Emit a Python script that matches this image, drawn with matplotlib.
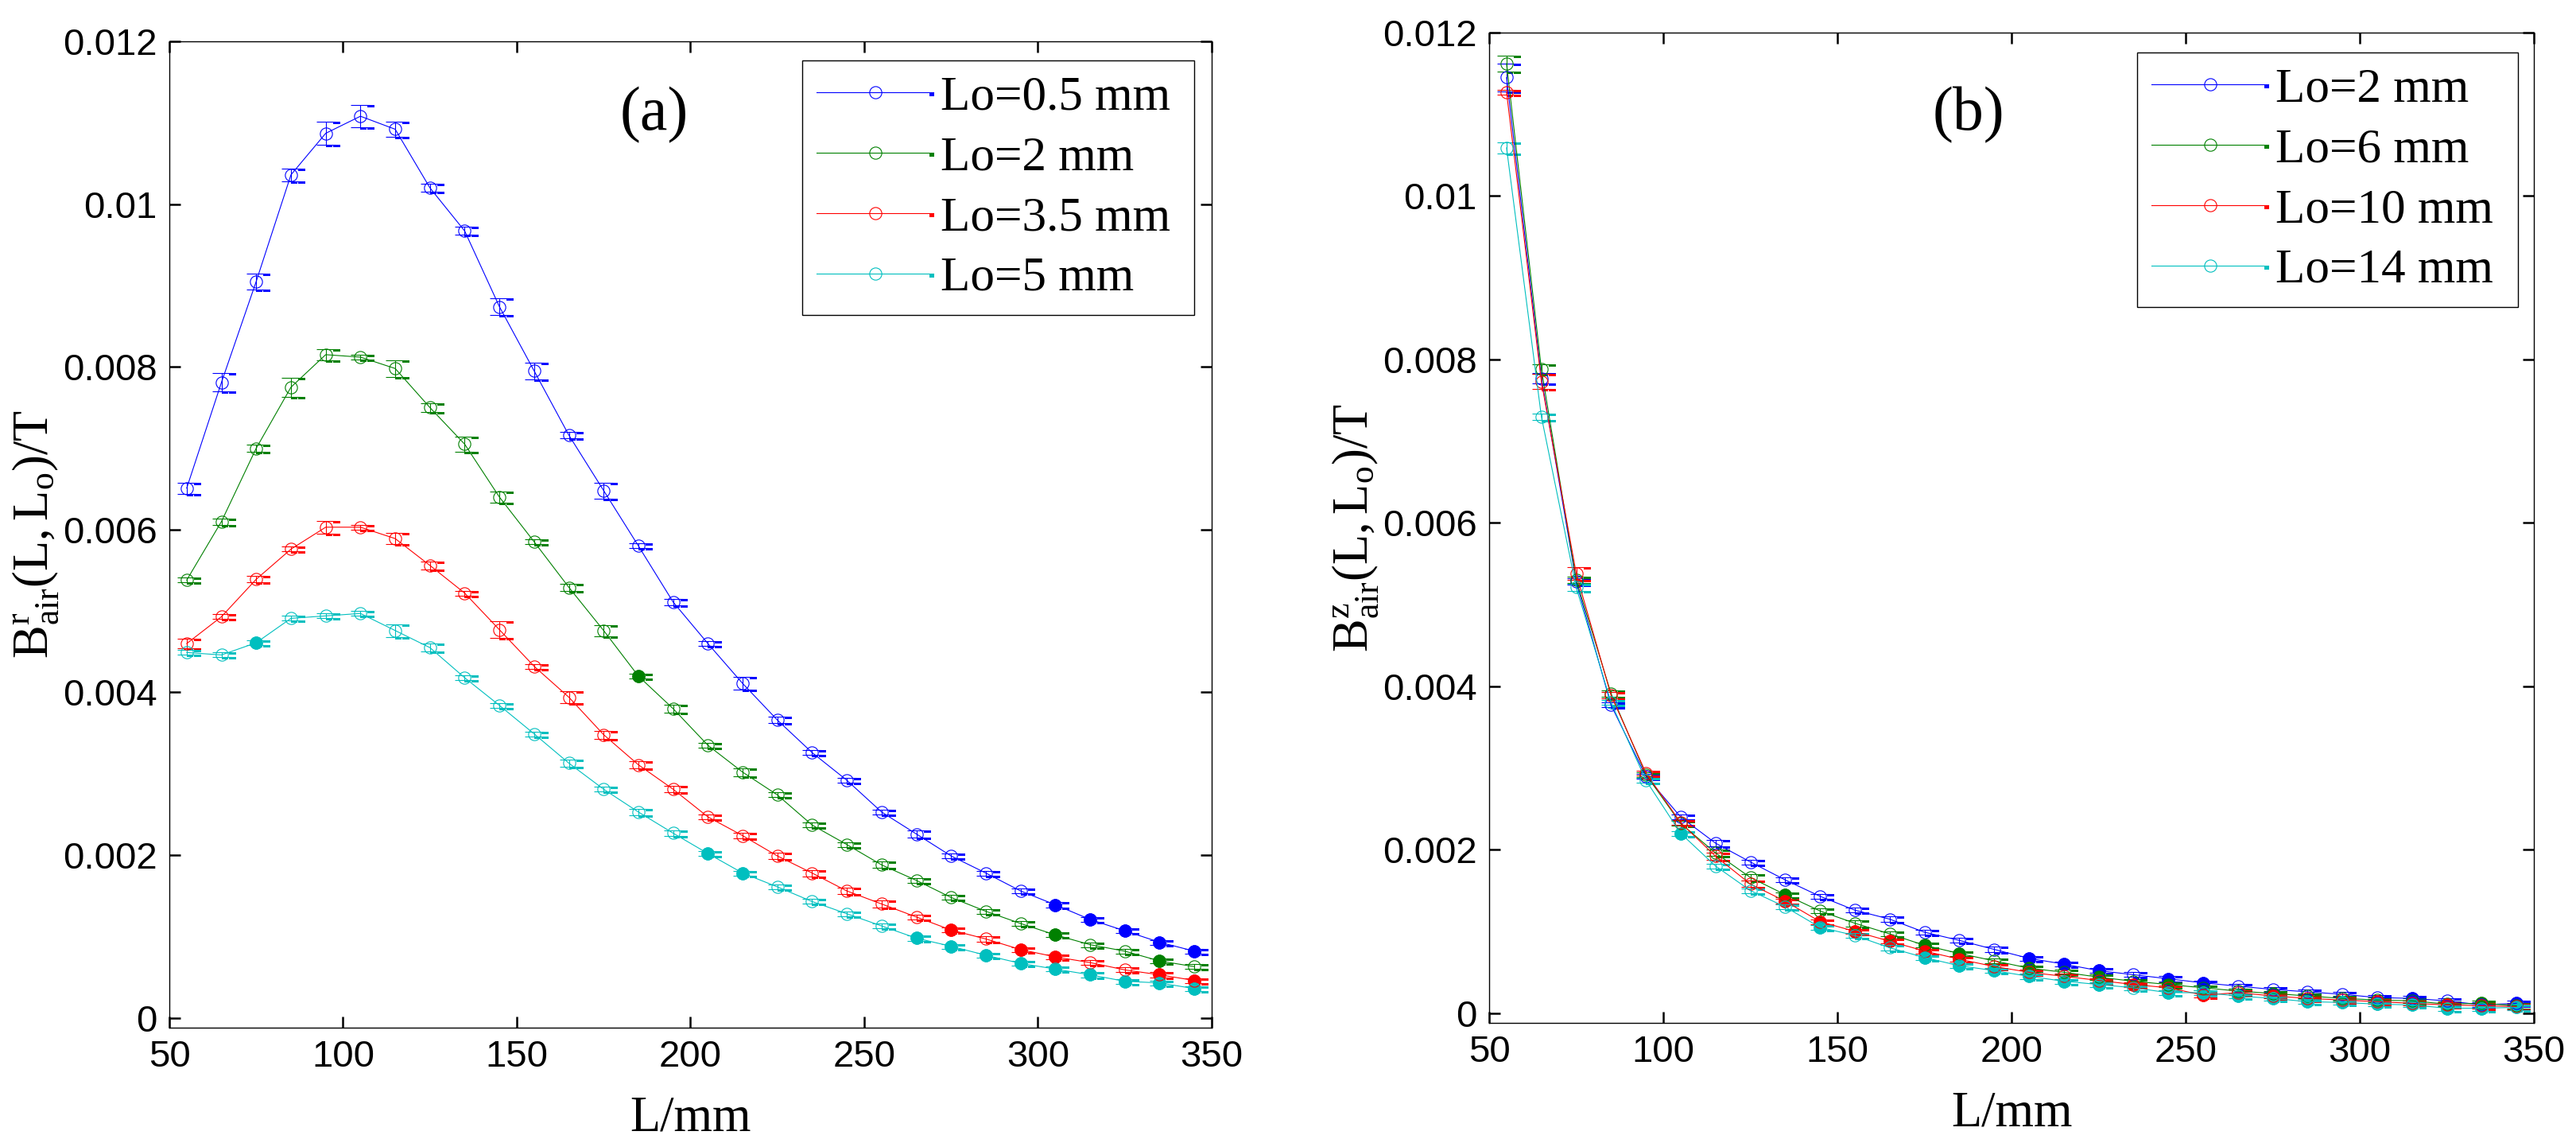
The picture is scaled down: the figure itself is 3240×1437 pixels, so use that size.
import numpy as np
import matplotlib
matplotlib.use('Agg')
import matplotlib.pyplot as plt
from matplotlib.lines import Line2D
from matplotlib.path import Path
from matplotlib.legend_handler import HandlerTuple

plt.rcParams['font.family'] = 'Liberation Sans'
plt.rcParams['mathtext.fontset'] = 'custom'
plt.rcParams['mathtext.rm'] = 'Liberation Serif'
plt.rcParams['mathtext.it'] = 'Liberation Serif:italic'

# %% data
L_mm = [55, 65, 75, 85, 95, 105, 115, 125, 135, 145, 155, 165, 175, 185, 195,
        205, 215, 225, 235, 245, 255, 265, 275, 285, 295, 305, 315, 325, 335, 345]

# (a) radial component, Lo = 0.5, 2, 3.5, 5 mm
br_05 = [0.00651, 0.00781, 0.00905, 0.01036, 0.01087, 0.01108, 0.01092, 0.01020, 0.00967, 0.00874,
         0.00795, 0.00716, 0.00648, 0.00580, 0.00511, 0.00460, 0.00411, 0.00366, 0.00326, 0.00292,
         0.00253, 0.00226, 0.00199, 0.00178, 0.00156, 0.00139, 0.00121, 0.00107, 0.00093, 0.00082]
br_2 = [0.00538, 0.00610, 0.00700, 0.00775, 0.00815, 0.00812, 0.00798, 0.00750, 0.00705, 0.00640,
        0.00585, 0.00529, 0.00476, 0.00420, 0.00380, 0.00335, 0.00302, 0.00274, 0.00237, 0.00213,
        0.00188, 0.00169, 0.00148, 0.00131, 0.00116, 0.00102, 0.00090, 0.00082, 0.00070, 0.00063]
br_35 = [0.00460, 0.00493, 0.00539, 0.00576, 0.00603, 0.00603, 0.00589, 0.00556, 0.00522, 0.00477,
         0.00432, 0.00394, 0.00348, 0.00311, 0.00281, 0.00247, 0.00224, 0.00199, 0.00178, 0.00156,
         0.00140, 0.00124, 0.00108, 0.00097, 0.00084, 0.00075, 0.00068, 0.00059, 0.00053, 0.00046]
br_5 = [0.00449, 0.00446, 0.00461, 0.00491, 0.00494, 0.00497, 0.00476, 0.00455, 0.00418, 0.00384,
        0.00349, 0.00313, 0.00281, 0.00253, 0.00227, 0.00202, 0.00178, 0.00161, 0.00143, 0.00128,
        0.00113, 0.00098, 0.00088, 0.00077, 0.00067, 0.00060, 0.00053, 0.00045, 0.00043, 0.00036]
er_05 = [0.00007, 0.00011, 0.00010, 0.00008, 0.00014, 0.00014, 0.00009, 0.00005, 0.00005, 0.00010,
         0.00010, 0.00004, 0.00010, 0.00003, 0.00004, 0.00003, 0.00008, 0.00004, 0.00003, 0.00003,
         0.00003, 0.00004, 0.00003, 0.00003, 0.00003, 0.00003, 0.00003, 0.00003, 0.00003, 0.00003]
er_2 = [0.00003, 0.00004, 0.00004, 0.00012, 0.00007, 0.00003, 0.00010, 0.00005, 0.00009, 0.00007,
        0.00003, 0.00004, 0.00007, 0.00003, 0.00005, 0.00003, 0.00005, 0.00003, 0.00003, 0.00003,
        0.00004, 0.00003, 0.00003, 0.00003, 0.00003, 0.00003, 0.00003, 0.00003, 0.00003, 0.00003]
er_35 = [0.00006, 0.00003, 0.00004, 0.00003, 0.00008, 0.00003, 0.00007, 0.00005, 0.00003, 0.00010,
         0.00003, 0.00007, 0.00005, 0.00004, 0.00004, 0.00003, 0.00003, 0.00004, 0.00004, 0.00004,
         0.00004, 0.00003, 0.00003, 0.00003, 0.00003, 0.00003, 0.00003, 0.00003, 0.00003, 0.00003]
er_5 = [0.00003, 0.00003, 0.00003, 0.00003, 0.00003, 0.00003, 0.00008, 0.00005, 0.00003, 0.00003,
        0.00003, 0.00004, 0.00003, 0.00004, 0.00003, 0.00003, 0.00003, 0.00003, 0.00003, 0.00003,
        0.00003, 0.00003, 0.00003, 0.00003, 0.00003, 0.00003, 0.00003, 0.00003, 0.00003, 0.00003]
fill_05 = [305, 315, 325, 335, 345]
fill_2 = [185, 305, 335]
fill_35 = [275, 295, 305, 335, 345]
fill_5 = [75, 205, 215, 265, 275, 285, 295, 305, 315, 325, 335, 345]

# (b) axial component, Lo = 2, 6, 10, 14 mm
bz_2 = [0.01145, 0.00777, 0.00528, 0.00377, 0.00290, 0.00240, 0.00208, 0.00185, 0.00163, 0.00143,
        0.00126, 0.00115, 0.00099, 0.00089, 0.00078, 0.00067, 0.00060, 0.00052, 0.00047, 0.00042,
        0.00037, 0.00033, 0.00029, 0.00026, 0.00023, 0.00019, 0.00018, 0.00015, 0.00010, 0.00012]
bz_6 = [0.01162, 0.00788, 0.00530, 0.00391, 0.00292, 0.00232, 0.00196, 0.00166, 0.00145, 0.00125,
        0.00110, 0.00097, 0.00083, 0.00073, 0.00064, 0.00055, 0.00050, 0.00044, 0.00039, 0.00035,
        0.00031, 0.00027, 0.00024, 0.00021, 0.00018, 0.00016, 0.00015, 0.00011, 0.00012, 0.00009]
bz_10 = [0.01127, 0.00773, 0.00538, 0.00389, 0.00294, 0.00233, 0.00192, 0.00158, 0.00137, 0.00112,
         0.00100, 0.00088, 0.00076, 0.00066, 0.00057, 0.00050, 0.00045, 0.00040, 0.00035, 0.00031,
         0.00022, 0.00025, 0.00021, 0.00018, 0.00016, 0.00014, 0.00012, 0.00010, 0.00009, 0.00008]
bz_14 = [0.01059, 0.00730, 0.00521, 0.00380, 0.00285, 0.00220, 0.00180, 0.00150, 0.00130, 0.00105,
         0.00095, 0.00080, 0.00068, 0.00058, 0.00052, 0.00045, 0.00039, 0.00035, 0.00031, 0.00025,
         0.00025, 0.00021, 0.00018, 0.00014, 0.00013, 0.00011, 0.00010, 0.00006, 0.00006, 0.00007]
ez_2 = [0.00017, 0.00006, 0.00004, 0.00003, 0.00003, 0.00003, 0.00004, 0.00003, 0.00003, 0.00003,
        0.00003, 0.00003, 0.00003, 0.00003, 0.00003, 0.00003, 0.00003, 0.00003, 0.00003, 0.00003,
        0.00003, 0.00003, 0.00003, 0.00003, 0.00003, 0.00003, 0.00003, 0.00003, 0.00003, 0.00003]
ez_6 = [0.00010, 0.00006, 0.00004, 0.00004, 0.00003, 0.00003, 0.00004, 0.00004, 0.00003, 0.00003,
        0.00004, 0.00003, 0.00003, 0.00003, 0.00003, 0.00003, 0.00003, 0.00003, 0.00003, 0.00003,
        0.00003, 0.00003, 0.00003, 0.00003, 0.00003, 0.00003, 0.00003, 0.00003, 0.00003, 0.00003]
ez_10 = [0.00003, 0.00009, 0.00008, 0.00004, 0.00003, 0.00003, 0.00004, 0.00004, 0.00003, 0.00003,
         0.00003, 0.00003, 0.00003, 0.00003, 0.00003, 0.00003, 0.00003, 0.00003, 0.00003, 0.00003,
         0.00003, 0.00003, 0.00003, 0.00003, 0.00003, 0.00003, 0.00003, 0.00003, 0.00003, 0.00003]
ez_14 = [0.00007, 0.00004, 0.00004, 0.00003, 0.00003, 0.00003, 0.00003, 0.00003, 0.00003, 0.00003,
         0.00003, 0.00003, 0.00003, 0.00003, 0.00003, 0.00003, 0.00003, 0.00003, 0.00003, 0.00003,
         0.00003, 0.00003, 0.00003, 0.00003, 0.00003, 0.00003, 0.00003, 0.00003, 0.00003, 0.00003]
fillz_2 = [205, 215, 225, 245, 255, 315, 345]
fillz_6 = [135, 175, 185, 205, 225, 245, 275, 335]
fillz_10 = [135, 145, 155, 165, 175, 185, 235, 255, 275, 305, 325]
fillz_14 = [105, 145, 175, 185, 195, 205, 215, 225, 245, 255, 265, 275, 285, 295, 305, 315, 325, 335, 345]

labels_a = ['Lo=0.5 mm', 'Lo=2 mm', 'Lo=3.5 mm', 'Lo=5 mm']
labels_b = ['Lo=2 mm', 'Lo=6 mm', 'Lo=10 mm', 'Lo=14 mm']
colors = ['#0000ff', '#008000', '#ff0000', '#00bfbf']
x_ticks = [50, 100, 150, 200, 250, 300, 350]
y_ticks = [0, 0.002, 0.004, 0.006, 0.008, 0.01, 0.012]
y_ticklabels = ['0', '0.002', '0.004', '0.006', '0.008', '0.01', '0.012']

# %% little blocks MATLAB leaves beside the error bar caps
MV, LT, CL = Path.MOVETO, Path.LINETO, Path.CLOSEPOLY
top_blk = Path([(0.5, -0.17), (1, -0.17), (1, 0), (0.5, 0), (0.5, -0.17)], [MV, LT, LT, LT, CL])
bot_blk = Path([(0.02, -0.17), (0.45, -0.17), (0.45, 0), (0.02, 0), (0.02, -0.17),
                (0.5, -0.17), (1, -0.17), (1, 0), (0.5, 0), (0.5, -0.17)],
               [MV, LT, LT, LT, CL, MV, LT, LT, LT, CL])
end_blk = Path([(0.93, -0.07), (1, -0.07), (1, 0), (0.93, 0), (0.93, -0.07)], [MV, LT, LT, LT, CL])


def draw(ax, y, err, filled, color):
    y = np.array(y)
    err = np.array(err)
    ax.errorbar(L_mm, y, yerr=err, color=color, lw=0.8, elinewidth=0.8, capsize=8.6,
                capthick=0.8, marker='o', ms=11, mfc='none', mew=0.8)
    fx = [x for x in L_mm if x in filled]
    fy = [v for x, v in zip(L_mm, y) if x in filled]
    ax.plot(fx, fy, 'o', color=color, ms=11, mew=0.8)
    ax.plot(L_mm, y + err, ls='none', marker=top_blk, ms=26, mfc=color, mec=color, mew=0)
    ax.plot(L_mm, y - err, ls='none', marker=bot_blk, ms=26, mfc=color, mec=color, mew=0)


def style(ax, ylab, tag, tag_xy, leg_labels, leg_box):
    ax.set_xlim(50, 350)
    ax.set_ylim(-0.00012, 0.012)
    ax.set_xticks(x_ticks)
    ax.set_yticks(y_ticks)
    ax.set_yticklabels(y_ticklabels)
    ax.tick_params(direction='in', length=10, width=1.8, top=True, right=True,
                   labelsize=34, pad=11)
    for s in ax.spines.values():
        s.set_linewidth(1.0)
    ax.set_xlabel('L/mm', family='Liberation Serif', fontsize=45, labelpad=19)
    ax.set_ylabel(ylab, fontsize=45, labelpad=2)
    ax.text(tag_xy[0], tag_xy[1], tag, transform=ax.transAxes, family='Liberation Serif',
            fontsize=56, ha='center', va='center')
    handles = []
    for c in colors:
        h1 = Line2D([], [], color=c, lw=0.8, marker='o', ms=11, mfc='none', mew=0.8)
        h2 = Line2D([], [], ls='none', marker=end_blk, ms=106, mfc=c, mec=c, mew=0)
        handles.append((h1, h2))
    leg = ax.legend(handles, leg_labels, handler_map={tuple: HandlerTuple(ndivide=1)},
                    loc='upper left', bbox_to_anchor=leg_box, mode='expand',
                    prop={'family': 'Liberation Serif', 'size': 44},
                    handlelength=2.4, handletextpad=0.15, labelspacing=0.33,
                    borderpad=0.3, borderaxespad=0, numpoints=1,
                    fancybox=False, framealpha=1, edgecolor='black')
    leg.get_frame().set_linewidth(1.0)


fig = plt.figure(figsize=(32.4, 14.37), dpi=100)
ax1 = fig.add_axes([213 / 3240, 1 - 1292 / 1437, 1311 / 3240, 1240 / 1437])
ax2 = fig.add_axes([1873 / 3240, 1 - 1286 / 1437, 1314 / 3240, 1245 / 1437])

for y, e, f, c in zip([br_05, br_2, br_35, br_5], [er_05, er_2, er_35, er_5],
                      [fill_05, fill_2, fill_35, fill_5], colors):
    draw(ax1, y, e, f, c)
for y, e, f, c in zip([bz_2, bz_6, bz_10, bz_14], [ez_2, ez_6, ez_10, ez_14],
                      [fillz_2, fillz_6, fillz_10, fillz_14], colors):
    draw(ax2, y, e, f, c)

# legend boxes in axes fractions (x0, y0, w, h)
style(ax1, r'$\mathrm{B^{r}_{air}(L,L_{o})/T}$', '(a)', (0.465, 0.925), labels_a,
      ((1009 - 213) / 1311, 1 - (76 - 52) / 1240 - 0.3, (1502 - 1009) / 1311, 0.3))
style(ax2, r'$\mathrm{B^{z}_{air}(L,L_{o})/T}$', '(b)', (0.459, 0.917), labels_b,
      ((2688 - 1873) / 1314, 1 - (66 - 41) / 1245 - 0.3, (3167 - 2688) / 1314, 0.3))

fig.savefig('out.png', dpi=100)
